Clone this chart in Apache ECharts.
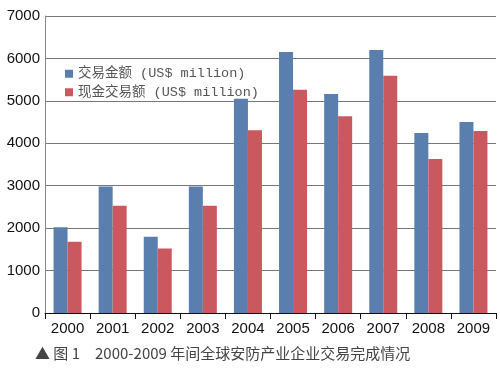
<!DOCTYPE html>
<html><head><meta charset="utf-8">
<script src="https://cdn.jsdelivr.net/npm/echarts@6/dist/echarts.min.js"></script>
<style>html,body{margin:0;padding:0;background:#fff}#c{width:500px;height:368px}</style>
</head><body><div id="c"></div>
<script>
const years = ['2000','2001','2002','2003','2004','2005','2006','2007','2008','2009'];
const dealValue = [2020, 2980, 1800, 2980, 5050, 6150, 5160, 6200, 4240, 4500];
const cashValue = [1680, 2530, 1520, 2530, 4310, 5260, 4640, 5590, 3630, 4290];
const yTicks = [0, 1000, 2000, 3000, 4000, 5000, 6000, 7000];
const seriesNames = ['交易金额 (US$ million)', '现金交易额 (US$ million)'];
const caption = '▲ 图 1　2000-2009 年间全球安防产业企业交易完成情况';

const chart = echarts.init(document.getElementById('c'));
chart.setOption({
  animation: false,
  backgroundColor: '#fff',
  color: ['#5a7fae', '#c9595f'],
  grid: {left: 45, right: 4, top: 16, bottom: 55},
  legend: {
    orient: 'vertical', left: 60, top: 62, itemWidth: 8, itemHeight: 8, itemGap: 5,
    icon: 'rect',
    textStyle: {fontFamily: "'Liberation Mono', 'Noto Sans CJK SC'", fontSize: 13.5, color: '#555'},
    data: seriesNames
  },
  title: {
    text: caption, left: 30, top: 341,
    textStyle: {fontFamily: 'Noto Sans CJK SC', fontSize: 15, fontWeight: 'normal', color: '#444'}
  },
  xAxis: {
    type: 'category', data: years,
    axisLine: {lineStyle: {color: '#111', width: 1}},
    axisTick: {show: true, alignWithLabel: false, length: 6, lineStyle: {color: '#111'}},
    axisLabel: {fontFamily: 'Liberation Sans', fontSize: 15, color: '#111', margin: 8}
  },
  yAxis: {
    type: 'value', min: yTicks[0], max: yTicks[yTicks.length - 1], interval: 1000,
    axisLine: {show: true, lineStyle: {color: '#888'}},
    axisTick: {show: false},
    splitLine: {lineStyle: {color: '#777', width: 1}},
    axisLabel: {fontFamily: 'Liberation Sans', fontSize: 15, color: '#111', margin: 5,
      formatter: v => String(v)}
  },
  series: [
    {name: seriesNames[0], type: 'bar', data: dealValue, barWidth: 14, barGap: '0%'},
    {name: seriesNames[1], type: 'bar', data: cashValue, barWidth: 14, barGap: '0%'}
  ]
});
</script></body></html>
